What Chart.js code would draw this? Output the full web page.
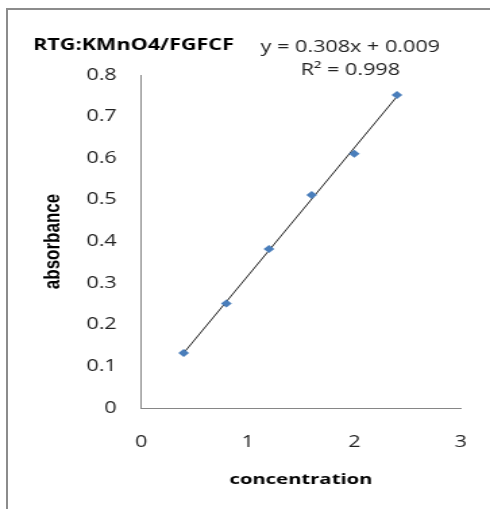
<!DOCTYPE html>
<html>
<head>
<meta charset="utf-8">
<script src="https://cdn.jsdelivr.net/npm/chart.js@4"></script>
<style>
	body {margin:0; background:#fff; overflow:hidden;}
	#frame {position:absolute; left:6px; top:8px; width:600px; height:600px; border:2px solid #8c8c8c; border-right:none; border-bottom:none;}
	/* the source picture is stretched sideways, so the canvas is too */
	#wrap {position:absolute; left:0; top:0; width:363px; height:509px; transform-origin:0 0; transform:scaleX(1.3499);}
</style>
</head>
<body>
<div id="frame"></div>
<div id="wrap"><canvas id="calChart" width="363" height="509"></canvas></div>
<script>
var concentration = [0.4, 0.8, 1.2, 1.6, 2.0, 2.4];
var absorbance = [0.132, 0.251, 0.382, 0.512, 0.611, 0.752];
var slope = 0.308;
var intercept = 0.009;
var chartTitle = "RTG:KMnO4/FGFCF";
var eqLines = ["y = 0.308x + 0.009", "R\u00b2 = 0.998"];

var FONT = "'Open Sans', 'DejaVu Sans', sans-serif";

// trendline from first to last x
var fitX = [concentration[0], concentration[concentration.length-1]];
var fitPts = fitX.map(function(x){ return {x: x, y: slope*x + intercept}; });
var pts = concentration.map(function(x, i){ return {x: x, y: absorbance[i]}; });

var textPlugin = {
	id: "texts",
	afterDraw: function(chart) {
		var ctx = chart.ctx;
		ctx.save();
		ctx.fillStyle = "#000";
		ctx.textBaseline = "middle";
		ctx.font = "bold 16px " + FONT;
		ctx.textAlign = "left";
		ctx.fillText(chartTitle, 24.5, 45);
		ctx.font = "16px " + FONT;
		ctx.textAlign = "center";
		ctx.fillStyle = "#222";
		ctx.fillText(eqLines[0], 259.5, 47);
		ctx.fillText(eqLines[1], 259.5, 70);
		ctx.restore();
	}
};

window.chart = new Chart("calChart", {
	type: "scatter",
	data: {
		datasets: [
			{
				data: pts,
				pointStyle: "rectRot",
				pointRadius: 4,
				backgroundColor: "#4a7ebb",
				borderColor: "#4a7ebb",
				borderWidth: 0,
				order: 1
			},
			{
				type: "line",
				data: fitPts,
				borderColor: "#222",
				borderWidth: 1,
				pointRadius: 0,
				fill: false,
				order: 2
			}
		]
	},
	options: {
		responsive: false,
		animation: false,
		layout: {padding: {left: 0, top: 75, right: 21, bottom: 0}},
		plugins: {legend: {display: false}, tooltip: {enabled: false}},
		scales: {
			x: {
				type: "linear", min: 0, max: 3,
				grid: {display: false},
				border: {display: true, color: "#868686", width: 1},
				ticks: {stepSize: 1, color: "#222", padding: 17, font: {family: FONT, size: 16}},
				title: {display: true, text: "concentration", color: "#000", padding: {top: 0, bottom: 20}, font: {family: FONT, size: 15, weight: "bold"}},
				afterFit: function(s){ s.height = 101; }
			},
			y: {
				min: 0, max: 0.8,
				grid: {display: false},
				border: {display: true, color: "#868686", width: 1},
				ticks: {stepSize: 0.1, color: "#222", padding: 10, font: {family: FONT, size: 16},
					callback: function(v){ return Math.round(v*10)/10; }},
				title: {display: true, text: "absorbance", color: "#000", padding: {top: 29, bottom: 0}, font: {family: "'Liberation Sans Narrow', 'Liberation Sans', sans-serif", size: 17, weight: "bold"}},
				afterFit: function(s){ s.width = 104.5; }
			}
		}
	},
	plugins: [textPlugin]
});
</script>
</body>
</html>
